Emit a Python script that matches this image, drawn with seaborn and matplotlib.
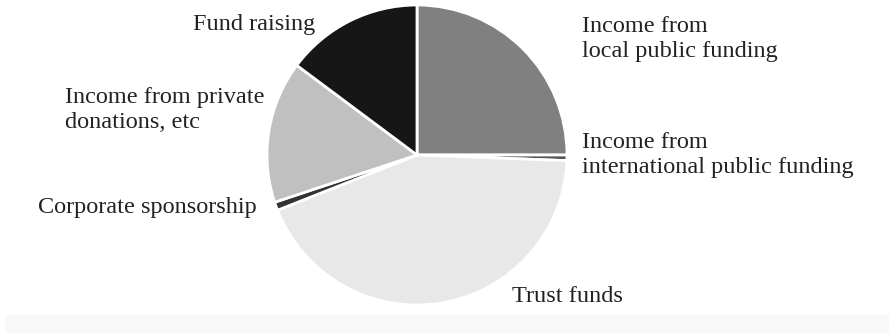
import matplotlib
matplotlib.use("Agg")
import matplotlib.pyplot as plt
import seaborn as sns

# Income sources, in the order drawn clockwise from 12 o'clock
categories = [
    "Income from\nlocal public funding",
    "Income from\ninternational public funding",
    "Trust funds",
    "Corporate sponsorship",
    "Income from private\ndonations, etc",
    "Fund raising",
]
shares = [25.0, 0.6, 43.4, 0.9, 15.3, 14.8]
greys = ["#808080", "#555555", "#e8e8e8", "#333333", "#c0c0c0", "#161616"]

# Label anchor points (left edge, last-line baseline) in pixel space
label_x = [582, 582, 512, 38, 65, 193]
label_y = [57, 173, 302, 213, 128, 30]

sns.set_theme(style="white")
plt.rcParams["font.family"] = ["Liberation Serif", "DejaVu Serif"]

W, H = 889, 333
fig = plt.figure(figsize=(W / 100, H / 100), dpi=100)
ax = fig.add_axes([0, 0, 1, 1])

# light band along the bottom edge
ax.add_patch(plt.Rectangle((5, 0), W - 5, H - 315, color="#f8f8f8", lw=0, zorder=0))

ax.pie(
    shares,
    colors=greys,
    startangle=90,
    counterclock=False,
    center=(417, H - 155),
    radius=150,
    wedgeprops=dict(edgecolor="white", linewidth=2),
    frame=True,
)
ax.set_xlim(0, W)
ax.set_ylim(0, H)
ax.set_aspect("equal")
ax.axis("off")

for text, x, y in zip(categories, label_x, label_y):
    ax.text(x, H - y, text, ha="left", va="baseline", fontsize=17.5,
            color="#222222", linespacing=1.28)

fig.savefig("out.png", dpi=100, facecolor="white")
